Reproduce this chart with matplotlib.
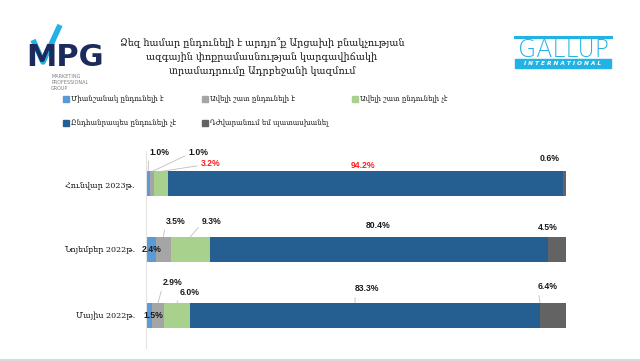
import matplotlib
matplotlib.use("Agg")

import matplotlib.pyplot as plt
from matplotlib.patches import Rectangle
from matplotlib.lines import Line2D

# ---- data ----
periods = ["Հունվար 2023թ.", "Նոյեմբեր 2022թ.", "Մայիս 2022թ."]
answers = [
    "Միանշանակ ընդունելի է",
    "Ավելի շատ ընդունելի է",
    "Ավելի շատ ընդունելի չէ",
    "Ընդհանրապես ընդունելի չէ",
    "Դժվարանում եմ պատասխանել",
]
jan_2023 = [1.0, 1.0, 3.2, 94.2, 0.6]
nov_2022 = [2.4, 3.5, 9.3, 80.4, 4.5]
may_2022 = [1.5, 2.9, 6.0, 83.3, 6.4]
values = [jan_2023, nov_2022, may_2022]

title = ("Ձեզ համար ընդունելի է արդյո՞ք Արցախի բնակչության\n"
         "ազգային փոքրամասնության կարգավիճակի\n"
         "տրամադրումը Ադրբեջանի կազմում")

COLORS = ["#5B9BD5", "#A5A5A5", "#A9D18E", "#255E91", "#636363"]
RED = "#FF1F1F"
TEXT = "#1A1A1A"
LEADER = "#BFBFBF"
CYAN = "#23B2E4"
NAVY = "#1B2B5E"
ARM = ["DejaVu Serif", "DejaVu Sans"]
NUM = ["Liberation Sans", "DejaVu Sans"]

# label placement (data coords) per period / segment: (text x, text y, leader target or None, colour)
label_pos = [
    [(3.1, -0.48, (0.5, -0.19), TEXT), (12.6, -0.48, (1.5, -0.19), TEXT),
     (15.5, -0.31, (3.6, -0.19), RED), (51.7, -0.28, None, RED),
     (96.0, -0.39, None, TEXT)],
    [(1.4, 1.0, None, TEXT), (7.1, 0.57, (4.1, 0.81), TEXT),
     (15.7, 0.57, (10.5, 0.81), TEXT), (55.2, 0.64, None, TEXT),
     (95.7, 0.67, None, TEXT)],
    [(1.7, 2.0, None, TEXT), (6.4, 1.50, (2.9, 1.81), TEXT),
     (10.5, 1.65, (7.4, 1.81), TEXT), (52.6, 1.60, (49.8, 1.81), TEXT),
     (95.7, 1.57, (93.8, 1.81), TEXT)],
]

fig = plt.figure(figsize=(6.4, 3.61), dpi=100)
fig.patch.set_facecolor("white")

ax = fig.add_axes([146 / 640, 1 - 348 / 361, 420 / 640, 197 / 361])
ypos = list(range(len(periods)))
left = [0.0] * len(periods)
for j, name in enumerate(answers):
    seg = [row[j] for row in values]
    ax.barh(ypos, seg, left=left, height=0.38, color=COLORS[j], label=name)
    left = [l + s for l, s in zip(left, seg)]

ax.set_xlim(0, 100)
ax.set_ylim(2.5, -0.5)
ax.set_yticks(ypos)
ax.set_yticklabels(periods, fontsize=5.8, family=ARM, color=TEXT)
ax.tick_params(axis="y", length=0, pad=8)
ax.set_xticks([])
for side in ("top", "right", "bottom"):
    ax.spines[side].set_visible(False)
ax.spines["left"].set_color("#E3E3E3")
ax.spines["left"].set_linewidth(0.8)

for i, row in enumerate(values):
    for j, v in enumerate(row):
        tx, ty, target, col = label_pos[i][j]
        txt = f"{v:.1f}%"
        if target is None:
            ax.text(tx, ty, txt, ha="center", va="center", fontsize=6.2,
                    fontweight="bold", color=col, family=NUM)
        else:
            ax.annotate(txt, xy=target, xytext=(tx, ty), ha="center",
                        va="center", fontsize=6.2, fontweight="bold", color=col,
                        family=NUM,
                        arrowprops=dict(arrowstyle="-", color=LEADER, lw=0.6,
                                        shrinkA=1, shrinkB=0,
                                        relpos=(0.0, 0.3)))

# ---- title ----
fig.text(262 / 640, 1 - 57 / 361, title, ha="center", va="center",
         fontsize=6.9, family=ARM, color=TEXT, linespacing=1.4)

# ---- legend (row-wise like the slide) ----
leg_xy = [(66, 99), (205, 99), (355, 99), (66, 123), (205, 123)]
for (px, py), name, col in zip(leg_xy, answers, COLORS):
    fig.patches.append(Rectangle((px / 640 - 0.004, 1 - py / 361 - 0.007),
                                 0.008, 0.014, color=col,
                                 transform=fig.transFigure, figure=fig))
    fig.text(px / 640 + 0.008, 1 - py / 361, name, ha="left", va="center",
             fontsize=5.0, family=ARM, color=TEXT)

# ---- MPG logo ----
fig.text(26 / 640, 1 - 66 / 361, "MPG", ha="left", va="baseline", fontsize=22,
         fontweight="bold", color=NAVY, family="DejaVu Sans")
fig.add_artist(Line2D([33 / 640, 43 / 640, 60 / 640],
                      [1 - 40 / 361, 1 - 62 / 361, 1 - 25 / 361],
                      color=CYAN, lw=4, solid_capstyle="butt"))
fig.text(51 / 640, 1 - 73.5 / 361, "MARKETING\nPROFESSIONAL\nGROUP", ha="left",
         va="top", fontsize=3.5, color="#7F7F7F", linespacing=1.35)

# ---- GALLUP logo ----
fig.add_artist(Line2D([515 / 640, 611 / 640], [1 - 37 / 361, 1 - 37 / 361],
                      color=CYAN, lw=2.2))
fig.text(563 / 640, 1 - 50 / 361, "GALLUP", ha="center", va="center",
         fontsize=17, color=CYAN, family="DejaVu Sans", fontweight="light")
fig.patches.append(Rectangle((515 / 640, 1 - 68 / 361), 96 / 640, 9 / 361,
                             color=CYAN, transform=fig.transFigure, figure=fig))
fig.text(563 / 640, 1 - 63.5 / 361, "I N T E R N A T I O N A L", ha="center",
         va="center", fontsize=4.2, color="white", fontweight="bold",
         style="italic")

# slide bottom border
fig.add_artist(Line2D([0, 1], [1.5 / 361, 1.5 / 361], color="#D9D9D9", lw=1.5))

fig.savefig("out.png", dpi=100, facecolor="white")
